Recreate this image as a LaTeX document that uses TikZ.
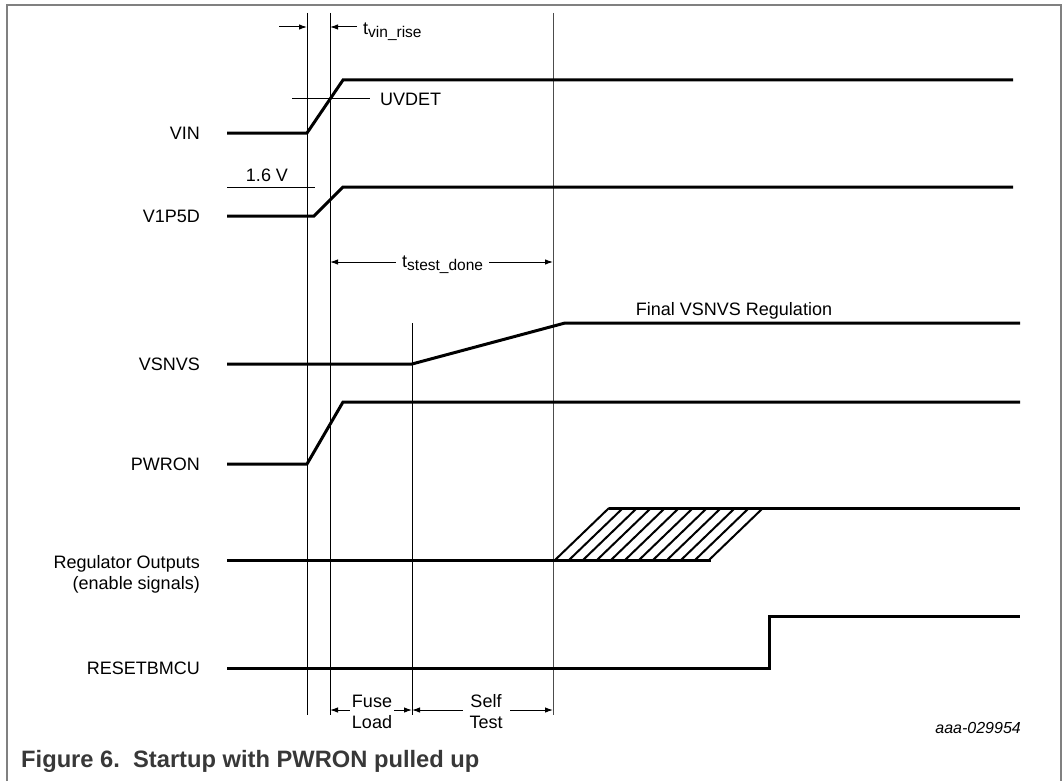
\documentclass[tikz,border=0pt]{standalone}
\usepackage{fontspec}
\setmainfont{Liberation Sans}
\usetikzlibrary{arrows.meta}
\begin{document}
\begin{tikzpicture}[x=1pt,y=-1pt,
  lbl/.style={font=\fontsize{18}{21}\selectfont, inner sep=0pt},
  sig/.style={line width=3pt, line join=miter},
  thin/.style={line width=1pt},
  hatch/.style={line width=2pt},
  dim/.style={line width=1pt, -{Latex[length=8pt,width=5.5pt]}},
  dimboth/.style={line width=1pt, {Latex[length=8pt,width=5.5pt]}-{Latex[length=8pt,width=5.5pt]}},
  gap/.style={lbl, fill=white, inner xsep=6pt, inner ysep=1pt}]
\useasboundingbox (0,0) rectangle (1064,781);
% frame
\draw[gray, line width=1.5pt] (7,781) -- (7,5) -- (1061,5) -- (1061,781);

% vertical markers
\coordinate (v1t) at (307,13); \coordinate (v1b) at (307,715);
\coordinate (v2t) at (330,13); \coordinate (v2b) at (330,715);
\coordinate (v3t) at (412,323); \coordinate (v3b) at (412,715);
\coordinate (v4t) at (553,13); \coordinate (v4b) at (553,715);
\draw[thin] (v1t) -- (v1b);
\draw[thin] (v2t) -- (v2b);
\draw[thin] (v3t) -- (v3b);
\draw[thin, black!70] (v4t) -- (v4b);

% signal labels
\node[lbl, anchor=base east] (lvin) at (200,139.5) {VIN};
\node[lbl, anchor=base east] (lv1p5d) at (200,222.5) {V1P5D};
\node[lbl, anchor=base east] (lvsnvs) at (200,370.5) {VSNVS};
\node[lbl, anchor=base east] (lpwron) at (200,470.5) {PWRON};
\node[lbl, anchor=base east] (lreg1) at (200,568.5) {Regulator Outputs};
\node[lbl, anchor=base east] (lreg2) at (200,589.5) {(enable signals)};
\node[lbl, anchor=base east] (lrst) at (200,674.5) {RESETBMCU};

% VIN
\draw[sig] (227,133) -- (307,133) -- (343,80) -- (1013,80);
% UVDET threshold
\coordinate (uva) at (292,99); \coordinate (uvb) at (370,99);
\draw[thin] (uva) -- (uvb);
\node[lbl, anchor=base west] (uvdet) at (380,105.5) {UVDET};
% 1.6 V threshold
\coordinate (tha) at (227,187); \coordinate (thb) at (315,187);
\draw[thin] (tha) -- (thb);
\node[lbl, anchor=base] (l16) at (267,181.5) {1.6 V};
% V1P5D
\draw[sig] (227,216) -- (314,216) -- (343,187) -- (1013,187);
% VSNVS
\draw[sig] (227,364) -- (412,364) -- (565,323) -- (1020,323);
\node[lbl, anchor=base] (lfinal) at (734,315) {Final VSNVS Regulation};
% PWRON
\draw[sig] (227,464) -- (307,464) -- (343,402) -- (1020,402);
% Regulator outputs
\draw[sig] (227,560) -- (711,560);
\draw[sig] (609,508) -- (1020,508);
\foreach \i in {0,...,11} {
  \draw[hatch] ({609+14*\i},508) -- ({555+14*\i},560);
}
% RESETBMCU
\draw[sig] (227,668) -- (769,668) -- (769,616) -- (1020,616);

% t_vin_rise
\coordinate (ra) at (279,27); \coordinate (rb) at (357,27);
\draw[dim] (ra) -- (v1t |- ra);
\draw[dim] (rb) -- (v2t |- rb);
\node[lbl, anchor=base west] (tvin) at (363,35) {t\raisebox{-2.5pt}{\fontsize{15.5}{16}\selectfont vin\_rise}};

% t_stest_done
\coordinate (sa) at (330,262); \coordinate (sb) at (553,262);
\draw[dimboth] (sa) -- (sb);
\node[gap, anchor=base west] (tst) at (396,267) {t\raisebox{-3.5pt}{\fontsize{15.5}{16}\selectfont stest\_done}};

% Fuse Load / Self Test
\coordinate (fa) at (330,710); \coordinate (fb) at (412,710); \coordinate (fc) at (553,710);
\draw[dimboth] (fa) -- (fb);
\draw[dimboth] (fb) -- (fc);
\node[gap, inner xsep=1.5pt, align=center] (fuse) at (372,712) {Fuse\\Load};
\node[gap, inner xsep=7pt, align=center] (self) at (486,712) {Self\\Test};

% figure id
\node[inner sep=0pt, anchor=base east, font=\fontsize{16}{18}\selectfont\itshape] (fid) at (1021,733) {aaa-029954};
% caption
\node[inner sep=0pt, anchor=base west, text=black!78, font=\fontsize{23.7}{26}\selectfont\bfseries] (cap) at (21,767) {Figure 6.\ \ Startup with PWRON pulled up};
\end{tikzpicture}
\end{document}
